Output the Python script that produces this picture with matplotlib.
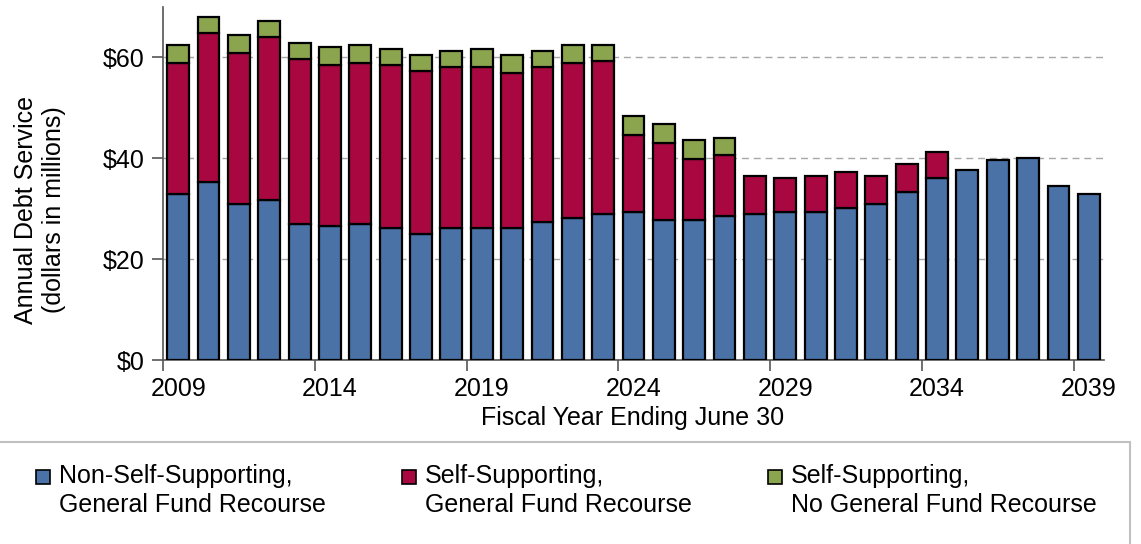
import matplotlib
matplotlib.use("Agg")
import matplotlib.pyplot as plt
from matplotlib.patches import Rectangle
import numpy as np

years = list(range(2009, 2040))
non_self_gf = [32.9, 35.2, 30.9, 31.7, 27.0, 26.6, 26.9, 26.1, 25.0, 26.1, 26.1, 26.1, 27.4, 28.2, 29.0,
               29.4, 27.8, 27.8, 28.6, 29.0, 29.4, 29.4, 30.1, 31.0, 33.3, 36.1, 37.7, 39.6, 40.1, 34.5, 33.0]
self_gf = [26.0, 29.6, 30.0, 32.3, 32.6, 31.8, 32.0, 32.3, 32.3, 32.0, 32.0, 30.8, 30.7, 30.7, 30.3,
           15.2, 15.2, 12.1, 12.1, 7.5, 6.7, 7.1, 7.1, 5.5, 5.5, 5.1, 0, 0, 0, 0, 0]
self_nogf = [3.5, 3.2, 3.5, 3.2, 3.2, 3.6, 3.5, 3.3, 3.2, 3.2, 3.6, 3.6, 3.2, 3.5, 3.1,
             3.7, 3.7, 3.7, 3.3, 0, 0, 0, 0, 0, 0, 0, 0, 0, 0, 0, 0]
series_labels = ["Non-Self-Supporting,\nGeneral Fund Recourse",
                 "Self-Supporting,\nGeneral Fund Recourse",
                 "Self-Supporting,\nNo General Fund Recourse"]
colors = ["#4A72A6", "#A8083F", "#8BA44E"]
yticks = [0, 20, 40, 60]
ytick_labels = ["$0", "$20", "$40", "$60"]
xtick_years = [2009, 2014, 2019, 2024, 2029, 2034, 2039]

plt.rcParams['font.family'] = ['Liberation Sans', 'DejaVu Sans']
FS = 18

W, H = 1141, 544
fig = plt.figure(figsize=(W / 100, H / 100), dpi=100)
ax = fig.add_axes([163 / W, 1 - 360 / H, (1104 - 163) / W, (360 - 7) / H])

x = np.arange(len(years))
b1 = np.array(non_self_gf)
b2 = np.array(self_gf)
b3 = np.array(self_nogf)
bw = 0.72
for vals, bottom, c in [(b1, np.zeros_like(b1), colors[0]), (b2, b1, colors[1]), (b3, b1 + b2, colors[2])]:
    mask = vals > 0
    ax.bar(x[mask], vals[mask], bottom=bottom[mask], width=bw,
           color=c, edgecolor="black", linewidth=1.6, zorder=3)

ax.set_xlim(-0.5, len(years) - 0.5)
ax.set_ylim(0, 70)
ax.set_yticks(yticks)
ax.set_yticklabels(ytick_labels, fontsize=FS)
ax.yaxis.grid(True, color="#a8a8a8", linestyle=(0, (5, 3.5)), linewidth=1.0, zorder=0)
ax.set_axisbelow(True)

# category ticks at boundaries, labels at centers
ax.set_xticks([years.index(y) - 0.5 for y in xtick_years])
ax.set_xticklabels([])
ax.set_xticks([years.index(y) for y in xtick_years], minor=True)
ax.set_xticklabels([str(y) for y in xtick_years], minor=True, fontsize=FS)
ax.tick_params(axis="x", which="major", length=8, width=1.2, color="#555555", direction="out")
ax.tick_params(axis="x", which="minor", length=0, pad=12)
ax.tick_params(axis="y", length=8, width=1.2, color="#555555", pad=5)

for s in ["top", "right"]:
    ax.spines[s].set_visible(False)
for s in ["left", "bottom"]:
    ax.spines[s].set_color("#555555")
    ax.spines[s].set_linewidth(1.2)

fig.text(633 / W, 1 - 418 / H, "Fiscal Year Ending June 30", fontsize=FS, ha="center", va="center")
fig.text(40 / W, 1 - 210 / H, "Annual Debt Service\n(dollars in millions)", fontsize=FS,
         rotation=90, ha="center", va="center", linespacing=1.22, multialignment="center")

# legend box
fig.patches.append(Rectangle((-5 / W, -20 / H), (1130 + 5) / W, (544 + 20 - 442) / H,
                             transform=fig.transFigure, facecolor="white", edgecolor="#c0c0c0",
                             linewidth=1.5, zorder=0))
sq_x = [36, 402, 768]
for sx, lab, c in zip(sq_x, series_labels, colors):
    fig.patches.append(Rectangle((sx / W, 1 - 484 / H), 14 / W, 14 / H, transform=fig.transFigure,
                                 facecolor=c, edgecolor="black", linewidth=1.2, zorder=2))
    fig.text((sx + 23) / W, 1 - 464 / H, lab, fontsize=FS, ha="left", va="top", linespacing=1.24)

fig.savefig("out.png", dpi=100)
